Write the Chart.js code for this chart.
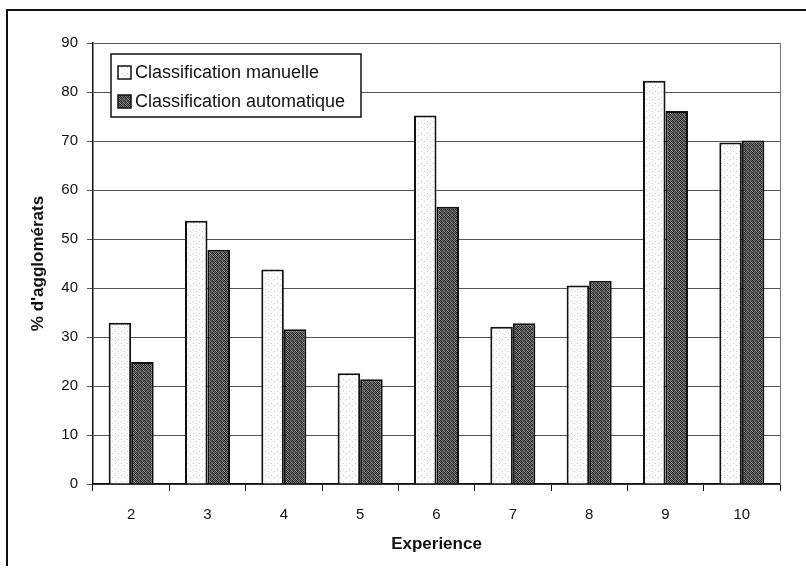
<!DOCTYPE html>
<html>
<head>
<meta charset="utf-8">
<script src="https://cdn.jsdelivr.net/npm/chart.js@4"></script>
<style>
  html, body { margin: 0; padding: 0; background: #fff; }
  #wrap { width: 806px; height: 574px; position: relative; }
</style>
</head>
<body>
<div id="wrap"><canvas id="chart" width="806" height="574"></canvas></div>
<script>
'use strict';

/* ── data ── */
const categories  = ['2', '3', '4', '5', '6', '7', '8', '9', '10'];
const manuelle    = [32.9, 53.7, 43.8, 22.6, 75.2, 32.1, 40.5, 82.3, 69.7];
const automatique = [24.9, 47.8, 31.6, 21.4, 56.6, 32.8, 41.5, 76.1, 70.1];
const seriesNames = ['Classification manuelle', 'Classification automatique'];
const yMin = 0, yMax = 90, yStep = 10;

const FONT = '"Liberation Sans", Arial, sans-serif';

/* ── stipple textures (scanned look) ── */
function makePattern(cells, bg) {
  const n = cells.length;
  const c = document.createElement('canvas');
  c.width = n; c.height = n;
  const g = c.getContext('2d');
  g.fillStyle = bg;
  g.fillRect(0, 0, n, n);
  cells.forEach((row, y) => row.forEach((col, x) => {
    if (!col) return;
    g.fillStyle = col;
    g.fillRect(x, y, 1, 1);
  }));
  return g.createPattern(c, 'repeat');
}

const L = '#cfcfcf';
const lightFill = makePattern([
  [0, 0, 0, 0, 0, 0],
  [0, L, 0, 0, 0, 0],
  [0, 0, 0, 0, 0, 0],
  [0, 0, 0, 0, L, 0],
  [0, 0, 0, 0, 0, 0],
  [0, 0, 0, 0, 0, 0]
], '#fbfbfb');

const a = '#1e1e1e', b = '#8c8c8c', d = '#3c3c3c', e = '#6a6a6a';
const darkFill = makePattern([
  [a, b, d, e],
  [e, a, b, a],
  [d, e, a, b],
  [b, a, e, d]
], '#555');

/* ── frame, plot border and in-plot legend ── */
const decorPlugin = {
  id: 'decor',
  beforeDraw(chart) {
    const ctx = chart.ctx;
    ctx.save();
    ctx.fillStyle = '#fff';
    ctx.fillRect(0, 0, chart.width, chart.height);
    ctx.strokeStyle = '#111';
    ctx.lineWidth = 2;
    ctx.beginPath();
    ctx.moveTo(7, 566);
    ctx.lineTo(7, 10);
    ctx.lineTo(806, 10);
    ctx.stroke();
    ctx.restore();
  },
  afterDraw(chart) {
    const ctx = chart.ctx;
    const area = chart.chartArea;
    ctx.save();
    // right edge of plot area
    ctx.strokeStyle = '#777';
    ctx.lineWidth = 1;
    ctx.beginPath();
    ctx.moveTo(area.right + 0.5, area.top);
    ctx.lineTo(area.right + 0.5, area.bottom);
    ctx.stroke();

    // legend box
    const lx = 111, ly = 54, lw = 250, lh = 63;
    ctx.fillStyle = '#fff';
    ctx.fillRect(lx, ly, lw, lh);
    ctx.strokeStyle = '#111';
    ctx.lineWidth = 1.5;
    ctx.strokeRect(lx, ly, lw, lh);

    ctx.font = '18px ' + FONT;
    ctx.textBaseline = 'middle';
    chart.data.datasets.forEach((ds, i) => {
      const cy = ly + 18 + i * 29;
      ctx.fillStyle = ds.backgroundColor;
      ctx.fillRect(118, cy - 6, 13, 13);
      ctx.strokeStyle = '#111';
      ctx.lineWidth = 1.5;
      ctx.strokeRect(118, cy - 6, 13, 13);
      ctx.fillStyle = '#111';
      ctx.fillText(ds.label, 135, cy + 1);
    });
    ctx.restore();
  }
};

new Chart(document.getElementById('chart'), {
  type: 'bar',
  data: {
    labels: categories,
    datasets: [
      {
        label: seriesNames[0],
        data: manuelle,
        backgroundColor: lightFill,
        borderColor: '#111',
        borderWidth: 2,
        borderSkipped: 'bottom'
      },
      {
        label: seriesNames[1],
        data: automatique,
        backgroundColor: darkFill,
        borderColor: '#111',
        borderWidth: 2,
        borderSkipped: 'bottom'
      }
    ]
  },
  options: {
    responsive: false,
    animation: false,
    events: [],
    layout: { padding: { left: 0, top: 43, right: 26, bottom: 0 } },
    datasets: { bar: { categoryPercentage: 0.59, barPercentage: 1.0 } },
    plugins: {
      legend: { display: false },
      tooltip: { enabled: false }
    },
    scales: {
      x: {
        offset: true,
        afterFit: s => { s.height = 90; },
        grid: {
          offset: true,
          drawOnChartArea: false,
          drawTicks: true,
          tickLength: 7,
          color: '#111',
          lineWidth: 1
        },
        border: { color: '#111', width: 1.5 },
        ticks: { color: '#111', font: { family: FONT, size: 15 }, padding: 15, maxRotation: 0 },
        title: {
          display: true,
          text: 'Experience',
          color: '#111',
          font: { family: FONT, size: 17, weight: 'bold' },
          padding: { top: 0, bottom: 19 }
        }
      },
      y: {
        min: yMin,
        max: yMax,
        afterFit: s => { s.width = 93; },
        grid: {
          color: '#555',
          lineWidth: 1,
          drawTicks: true,
          tickLength: 6
        },
        border: { color: '#111', width: 1.5 },
        ticks: {
          stepSize: yStep,
          color: '#111',
          font: { family: FONT, size: 15 },
          padding: 9
        },
        title: {
          display: true,
          text: "% d'agglomérats",
          color: '#111',
          font: { family: FONT, size: 17, weight: 'bold' },
          padding: { top: 28, bottom: 0 }
        }
      }
    }
  },
  plugins: [decorPlugin]
});
</script>
</body>
</html>
